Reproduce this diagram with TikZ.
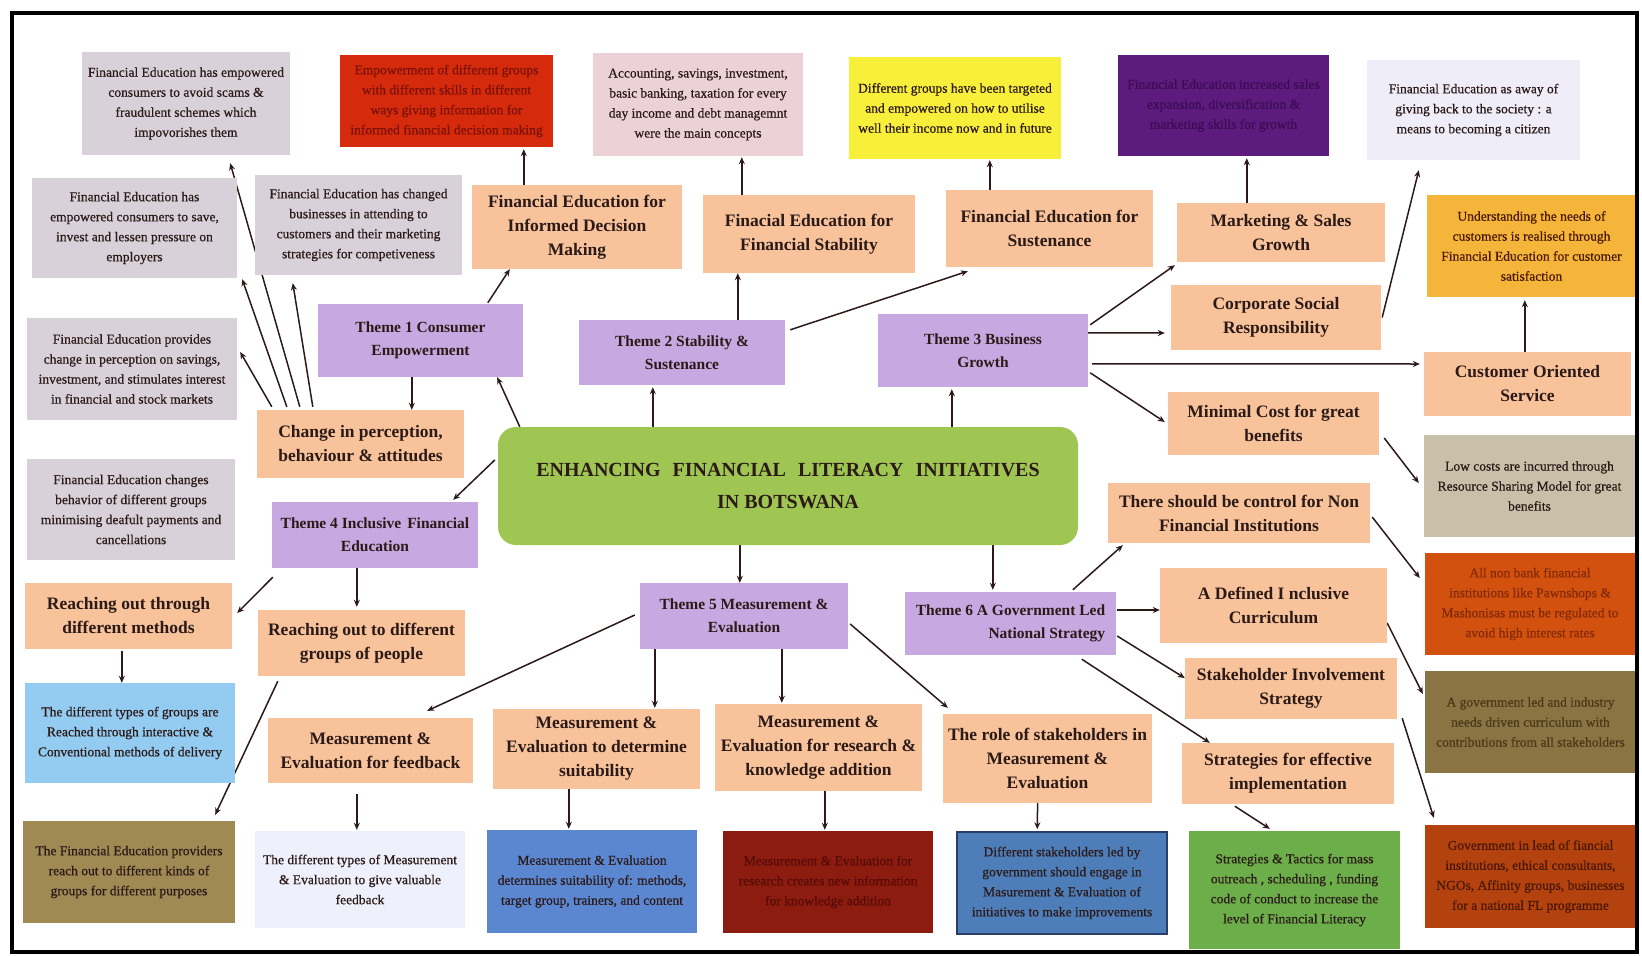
\documentclass[tikz,border=0pt]{standalone}
\usepackage{fontspec}
\setmainfont{Liberation Serif}
\newfontfamily\notefont{Liberation Serif}[FakeBold=0.6]
\usetikzlibrary{arrows.meta,calc}

% palette
\definecolor{ink}{HTML}{2B1A18}
\definecolor{greybox}{HTML}{D8D1D9}
\definecolor{peach}{HTML}{F8C39B}
\definecolor{lilac}{HTML}{C7A8E0}
\definecolor{leaf}{HTML}{9FC552}
\definecolor{redbox}{HTML}{D62A0C}
\definecolor{redtext}{HTML}{7A1206}
\definecolor{pinkbox}{HTML}{ECD2D6}
\definecolor{yellowbox}{HTML}{F8EF3A}
\definecolor{plum}{HTML}{5E1B7E}
\definecolor{plumtext}{HTML}{3A0D52}
\definecolor{palelav}{HTML}{EFEDF8}
\definecolor{gold}{HTML}{F4B53A}
\definecolor{sand}{HTML}{C9C0AA}
\definecolor{burnt}{HTML}{D2510F}
\definecolor{burnttext}{HTML}{842A06}
\definecolor{olive}{HTML}{8B7443}
\definecolor{olivetext}{HTML}{4A3918}
\definecolor{skyblue}{HTML}{93CBF1}
\definecolor{khaki}{HTML}{A08A54}
\definecolor{paleblue}{HTML}{EEF0FB}
\definecolor{midblue}{HTML}{5B86D0}
\definecolor{maroon}{HTML}{8D1C10}
\definecolor{maroontext}{HTML}{560B06}
\definecolor{steel}{HTML}{4E7EB9}
\definecolor{steeledge}{HTML}{2A3F66}
\definecolor{grass}{HTML}{6BAE4A}
\definecolor{rust}{HTML}{B4420F}
\definecolor{rusttext}{HTML}{4A1805}

\pgfdeclarelayer{paper}
\pgfdeclarelayer{edges}
\pgfsetlayers{paper,edges,main}

\tikzset{
  box/.style={draw=none, inner sep=2pt, align=center, text=ink},
  note/.style={box, font=\notefont\fontsize{13.5}{20}\selectfont},
  head/.style={box, fill=peach, font=\fontsize{17.5}{24}\selectfont\bfseries},
  theme/.style={box, fill=lilac, font=\fontsize{15.5}{23}\selectfont\bfseries},
  sz/.style 2 args={minimum width=#1, minimum height=#2},
  link/.style={draw=ink, line width=1.5pt, -{Stealth[length=7pt,width=6pt]}}
}

\begin{document}
\begin{tikzpicture}[x=1pt,y=-1pt]
\useasboundingbox (0,0) rectangle (1642,956);
\begin{pgfonlayer}{paper}
  \fill[white] (0,0) rectangle (1642,956);
\end{pgfonlayer}

% ---------- top row ----------
\node[note, fill=greybox, sz={208}{103}] (g1) at (186,103.5)
  {Financial Education has empowered\\consumers to avoid scams \&\\fraudulent schemes which\\impovorishes them};
\node[note, fill=redbox, text=redtext, sz={213}{92}] (red) at (446.5,101)
  {Empowerment of different groups\\with different skills in different\\ways giving information for\\informed financial decision making};
\node[note, fill=pinkbox, sz={210}{103}] (pink) at (698,104.5)
  {Accounting, savings, investment,\\basic banking, taxation for every\\day income and debt managemnt\\were the main concepts};
\node[note, fill=yellowbox, sz={212}{102}] (yel) at (955,108)
  {Different groups have been targeted\\and empowered on how to utilise\\well their income now and in future};
\node[note, fill=plum, text=plumtext, sz={211}{101}] (plum) at (1223.5,105.5)
  {Financial Education increased sales\\expansion, diversification \&\\marketing skills for growth};
\node[note, fill=palelav, sz={213}{100}] (lav) at (1473.5,110)
  {Financial Education as away of\\giving back to the society : a\\means to becoming a citizen};

% ---------- second row ----------
\node[note, fill=greybox, sz={205}{100}] (g7) at (134.5,228)
  {Financial Education has\\empowered consumers to save,\\invest and lessen pressure on\\employers};
\node[note, fill=greybox, sz={207}{100}] (g8) at (358.5,225)
  {Financial Education has changed\\businesses in attending to\\customers and their marketing\\strategies for competiveness};
\node[head, sz={210}{84}] (o9) at (577,227)
  {Financial Education for\\Informed Decision\\Making};
\node[head, sz={212}{78}] (o10) at (809,234)
  {Finacial Education for\\Financial Stability};
\node[head, sz={207}{77}] (o11) at (1049.5,228.5)
  {Financial Education for\\Sustenance};
\node[head, sz={208}{59}] (o12) at (1281,232.5)
  {Marketing \& Sales\\Growth};
\node[note, fill=gold, text=rusttext, sz={209}{102}] (gold) at (1531.5,246)
  {Understanding the needs of\\customers is realised through\\Financial Education for customer\\satisfaction};
\node[head, sz={210}{65}] (o14) at (1276,317.5)
  {Corporate Social\\Responsibility};

% ---------- themes and middle band ----------
\node[theme, sz={205}{73}] (t1) at (420.5,340.5) {Theme 1 Consumer\\Empowerment};
\node[note, fill=greybox, sz={210}{102}] (g16) at (132,369)
  {Financial Education provides\\change in perception on savings,\\investment, and stimulates interest\\in financial and stock markets};
\node[theme, sz={206}{65}] (t2) at (682,352.5) {Theme 2 Stability \&\\Sustenance};
\node[theme, sz={210}{73}] (t3) at (983,350.5) {Theme 3 Business\\Growth};
\node[head, sz={207}{64}] (o19) at (1527.5,384) {Customer Oriented\\Service};
\node[head, sz={211}{63}] (o20) at (1273.5,423.5) {Minimal Cost for great\\benefits};
\node[head, sz={207}{68}] (o21) at (360.5,444) {Change in perception,\\behaviour \& attitudes};
\node[box, fill=leaf, rounded corners=18pt, sz={580}{118},
      font=\fontsize{20}{32}\selectfont\bfseries] (centre) at (788,486)
  {ENHANCING\hspace{12pt}FINANCIAL\hspace{12pt}LITERACY\hspace{12pt}INITIATIVES\\IN BOTSWANA};
\node[note, fill=sand, sz={211}{102}] (g23) at (1529.5,486)
  {Low costs are incurred through\\Resource Sharing Model for great\\benefits};
\node[note, fill=greybox, sz={208}{101}] (g24) at (131,509.5)
  {Financial Education changes\\behavior of different groups\\minimising deafult payments and\\cancellations};
\node[theme, sz={206}{66}] (t4) at (375,535) {Theme 4 Inclusive\hspace{6pt}Financial\\Education};
\node[head, sz={262}{60}] (o26) at (1239,513)
  {There should be control for Non\\Financial Institutions};
\node[note, fill=burnt, text=burnttext, sz={210}{102}] (r27) at (1530,604)
  {All non bank financial\\institutions like Pawnshops \&\\Mashonisas must be regulated to\\avoid high interest rates};

% ---------- lower band ----------
\node[head, sz={207}{66}] (o28) at (128.5,616) {Reaching out through\\different methods};
\node[head, sz={207}{66}] (o29) at (361.5,643) {Reaching out to different\\groups of people};
\node[theme, sz={208}{66}] (t5) at (744,616) {Theme 5 Measurement \&\\Evaluation};
\node[theme, align=right, sz={211}{63}] (t6) at (1010.5,623.5) {Theme 6 A Government Led\\National Strategy};
\node[head, sz={227}{75}] (o32) at (1273.5,605.5) {A Defined I nclusive\\Curriculum};
\node[head, sz={212}{61}] (o33) at (1291,688.5) {Stakeholder Involvement\\Strategy};
\node[note, fill=olive, text=olivetext, sz={211}{102}] (ol34) at (1530.5,722)
  {A government led and industry\\needs driven curriculum with\\contributions from all stakeholders};
\node[note, fill=skyblue, text=ink, sz={210}{100}] (b35) at (130,733)
  {The different types of groups are\\Reached through interactive \&\\Conventional methods of delivery};
\node[head, sz={205}{65}] (o36) at (370.5,750.5) {Measurement \&\\Evaluation for feedback};
\node[head, sz={207}{80}] (o37) at (596.5,749) {Measurement \&\\Evaluation to determine\\suitability};
\node[head, sz={207}{87}] (o38) at (818.5,747.5) {Measurement \&\\Evaluation for research \&\\knowledge addition};
\node[head, sz={209}{89}] (o39) at (1047.5,758.5) {The role of stakeholders in\\Measurement \&\\Evaluation};
\node[head, sz={212}{61}] (o40) at (1288,773.5) {Strategies\hspace{5pt}for effective\\implementation};

% ---------- bottom row ----------
\node[note, fill=khaki, sz={212}{102}] (br41) at (129,872)
  {The Financial Education providers\\reach out to different kinds of\\groups for different purposes};
\node[note, fill=paleblue, sz={210}{97}] (l42) at (360,879.5)
  {The different types of Measurement\\\& Evaluation to give valuable\\feedback};
\node[note, fill=midblue, text=ink, sz={210}{103}] (b43) at (592,881.5)
  {Measurement \& Evaluation\\determines suitability of: methods,\\target group, trainers, and content};
\node[note, fill=maroon, text=maroontext, sz={210}{102}] (dr44) at (828,882)
  {Measurement \& Evaluation for\\research creates new information\\for knowledge addition};
\node[note, fill=steel, draw=steeledge, line width=1.5pt, text=ink, sz={210}{102}] (sb45) at (1062,883)
  {Different stakeholders led by\\government should engage in\\Masurement \& Evaluation of\\initiatives to make improvements};
\node[note, fill=grass, text=ink, sz={211}{118}] (gr46) at (1294.5,890)
  {Strategies \& Tactics for mass\\outreach , scheduling , funding\\code of conduct to increase the\\level of Financial Literacy};
\node[note, fill=rust, text=rusttext, sz={211}{103}] (ru47) at (1530.5,876.5)
  {Government in lead of fiancial\\institutions, ethical consultants,\\NGOs, Affinity groups, businesses\\for a national FL programme};

% ---------- connectors ----------
\begin{pgfonlayer}{edges}
% change in perception fans out to the grey notes
\draw[link] ($(o21.north west)+(15,-3)$) -- ($(g16.east)+(3,-17)$);
\draw[link] ($(o21.north west)+(30,-3)$) -- ($(g7.south east)+(5,1)$);
\draw[link] ($(o21.north west)+(43,-3)$) -- ($(g1.south east)+(-60,8)$);
\draw[link] ($(o21.north west)+(56,-3)$) -- ($(g8.south west)+(38,8)$);
% theme 1
\draw[link] ($(t1.south west)+(94,0)$) -- ($(o21.north west)+(155,0)$);
\draw[link] ($(t1.north west)+(170,-1)$) -- ($(o9.south west)+(38,0)$);
% centre to the six themes
\draw[link] ($(centre.north west)+(22,0)$) -- ($(t1.south east)+(-26,0)$);
\draw[link] ($(centre.west)+(-3,-26)$) -- ($(t4.north east)+(-25,-2)$);
\draw[link] ($(centre.north west)+(155,0)$) -- ($(t2.south west)+(74,2)$);
\draw[link] ($(centre.north west)+(454,0)$) -- ($(t3.south west)+(74,2)$);
\draw[link] ($(centre.south west)+(242,0)$) -- ($(t5.north west)+(100,0)$);
\draw[link] ($(centre.south west)+(495,0)$) -- ($(t6.north west)+(88,-2)$);
% theme 2
\draw[link] ($(t2.north west)+(159,0)$) -- ($(o10.south west)+(35,0)$);
\draw[link] ($(t2.north east)+(5,10)$) -- ($(o11.south west)+(22,4)$);
% top row links
\draw[link] ($(o9.north west)+(52,0)$) -- ($(red.south west)+(184,2)$);
\draw[link] ($(o10.north west)+(39,0)$) -- ($(pink.south west)+(149,1)$);
\draw[link] ($(o11.north west)+(44,0)$) -- ($(yel.south west)+(141,1)$);
\draw[link] ($(o12.north west)+(70,0)$) -- ($(plum.south west)+(129,2)$);
% theme 3
\draw[link] ($(t3.north east)+(2,11)$) -- ($(o12.south west)+(-2,3)$);
\draw[link] ($(t3.north east)+(0,19)$) -- ($(o14.west)+(-6,15.5)$);
\draw[link] ($(t3.north east)+(4,50)$) -- ($(o19.west)+(-4,-20)$);
\draw[link] ($(t3.north east)+(2,59)$) -- ($(o20.west)+(-3,-1.5)$);
\draw[link] ($(o14.east)+(1,0)$) -- ($(lav.south west)+(52,10)$);
\draw[link] ($(o19.north west)+(101,0)$) -- ($(gold.south west)+(98,3)$);
\draw[link] ($(o20.east)+(5,14.5)$) -- ($(g23.west)+(-5,-3)$);
% theme 6
\draw[link] ($(t6.north west)+(168,-2)$) -- ($(o26.south west)+(15,2)$);
\draw[link] ($(t6.east)+(1,-13.5)$) -- ($(o32.west)+(0,4.5)$);
\draw[link] ($(t6.east)+(1,12.5)$) -- ($(o33.west)+(0,-10.5)$);
\draw[link] ($(t6.south west)+(177,4)$) -- ($(o40.north west)+(28,0)$);
\draw[link] ($(o26.east)+(2,4)$) -- ($(r27.west)+(-5,-26)$);
\draw[link] ($(o32.east)+(0,17.5)$) -- ($(ol34.west)+(-2,-28)$);
\draw[link] ($(o33.south east)+(5,-1)$) -- ($(ru47.north west)+(9,-7)$);
\draw[link] ($(o40.south west)+(53,2)$) -- ($(gr46.north west)+(81,-2)$);
% theme 5
\draw[link] ($(t5.west)+(-5,-1)$) -- ($(o36.north east)+(-46,-7)$);
\draw[link] ($(t5.south west)+(15,0)$) -- ($(o37.north west)+(162,-1)$);
\draw[link] ($(t5.south west)+(142,0)$) -- ($(o38.north west)+(67,-1)$);
\draw[link] ($(t5.east)+(2,8)$) -- ($(o39.north west)+(5,-6)$);
\draw[link] ($(o37.south west)+(76,0)$) -- ($(b43.north west)+(82,-1)$);
\draw[link] ($(o38.south west)+(110,0)$) -- ($(dr44.north west)+(102,-1)$);
\draw[link] ($(o39.south west)+(95,-13)$) -- ($(sb45.north west)+(81,-2)$);
\draw[link] ($(o36.south west)+(89,11)$) -- ($(l42.north west)+(102,-1)$);
% theme 4
\draw[link] ($(t4.south west)+(1,9)$) -- ($(o28.east)+(5,-3)$);
\draw[link] ($(t4.south west)+(85,0)$) -- ($(o29.north west)+(99,-3)$);
\draw[link] ($(o28.south west)+(97,2)$) -- ($(b35.north west)+(97,0)$);
\draw[link] ($(o29.south west)+(20,5)$) -- ($(br41.north east)+(-20,-6)$);
\end{pgfonlayer}

% outer frame
\draw[line width=3.5pt] (12,13) rectangle (1637,952);
\end{tikzpicture}
\end{document}
